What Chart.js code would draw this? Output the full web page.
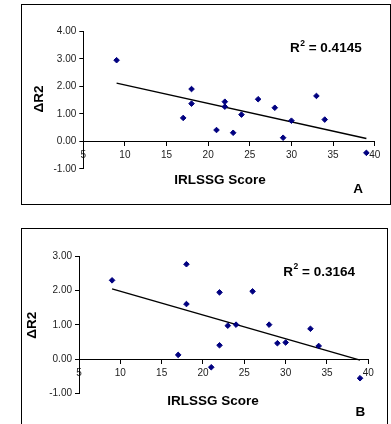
<!DOCTYPE html>
<html>
<head>
<meta charset="utf-8">
<script src="https://cdn.jsdelivr.net/npm/chart.js@4"></script>
<style>
  html, body { margin: 0; padding: 0; background: #fff; }
  body { width: 391px; height: 424px; position: relative; overflow: hidden; font-family: "Liberation Sans", Arial, sans-serif; }
  .frame { position: absolute; border: 1px solid #000; box-sizing: border-box; }
  #frameA { left: 21px; top: 4px; width: 370px; height: 201px; }
  #frameB { left: 21px; top: 228px; width: 367px; height: 210px; }
  .panel { position: absolute; left: 0; }
  #panelA { top: 0; }
  #panelB { top: 212px; }
</style>
</head>
<body>
<div class="frame" id="frameA"></div>
<div class="frame" id="frameB"></div>
<canvas class="panel" id="panelA" width="391" height="212"></canvas>
<canvas class="panel" id="panelB" width="391" height="212"></canvas>
<script>
// ==========================
// Data
// ==========================
const scores = [9, 18, 18, 17, 21, 22, 22, 23, 24, 26, 28, 29, 30, 33, 34, 39];
const deltaA = [2.95, 1.90, 1.37, 0.85, 0.41, 1.44, 1.26, 0.31, 0.97, 1.53, 1.22, 0.13, 0.75, 1.65, 0.79, -0.42];
const deltaB = [2.30, 2.77, 1.61, 0.13, -0.23, 0.41, 1.95, 0.98, 1.01, 1.98, 1.01, 0.47, 0.49, 0.89, 0.39, -0.55];
const xTicks = [5, 10, 15, 20, 25, 30, 35, 40];
const yRangeA = [-1, 4];
const yRangeB = [-1, 3];
const rSquared = ['0.4145', '0.3164'];
const panelLetters = ['A', 'B'];
const xTitle = 'IRLSSG Score';
const yTitle = '\u0394R2';

// least squares trend line through the points
function trendLine(xs, ys) {
  const n = xs.length;
  const mx = xs.reduce((a, b) => a + b, 0) / n;
  const my = ys.reduce((a, b) => a + b, 0) / n;
  let sxy = 0, sxx = 0;
  xs.forEach((x, i) => { sxy += (x - mx) * (ys[i] - my); sxx += (x - mx) * (x - mx); });
  const slope = sxy / sxx;
  const b = my - slope * mx;
  const lo = Math.min(...xs), hi = Math.max(...xs);
  return [{ x: lo, y: b + slope * lo }, { x: hi, y: b + slope * hi }];
}

const FONT = '"Liberation Sans", Arial, sans-serif';

// ==========================
// Titles, R^2 and panel letter
// ==========================
const panelText = {
  id: 'panelText',
  afterDraw(chart, args, opts) {
    const ctx = chart.ctx;
    ctx.save();
    ctx.fillStyle = '#000';
    ctx.font = 'bold 13.5px ' + FONT;
    ctx.textBaseline = 'middle';
    ctx.textAlign = 'center';
    ctx.fillText(xTitle, opts.xTitle[0], opts.xTitle[1]);
    ctx.fillText(opts.letter, opts.letterPos[0], opts.letterPos[1]);

    ctx.save();
    ctx.translate(opts.yTitle[0], opts.yTitle[1]);
    ctx.rotate(-Math.PI / 2);
    ctx.fillText(yTitle, 0, 0);
    ctx.restore();

    // R^2 = value
    ctx.textAlign = 'left';
    let x = opts.r2[0];
    const y = opts.r2[1];
    ctx.fillText('R', x, y);
    x += ctx.measureText('R').width;
    ctx.font = 'bold 8.5px ' + FONT;
    ctx.fillText('2', x + 0.5, y - 5);
    x += ctx.measureText('2').width + 0.5;
    ctx.font = 'bold 13.5px ' + FONT;
    ctx.fillText(' = ' + opts.r2Text, x, y);
    ctx.restore();
  }
};

function makePanel(id, ys, yRange, area, text) {
  return new Chart(document.getElementById(id).getContext('2d'), {
    type: 'scatter',
    data: {
      datasets: [{
        data: scores.map((x, i) => ({ x: x, y: ys[i] })),
        pointStyle: 'rectRot',
        pointRadius: 2.8,
        pointBorderWidth: 1,
        backgroundColor: '#000080',
        borderColor: '#000080'
      }, {
        type: 'line',
        data: trendLine(scores, ys),
        borderColor: '#000',
        borderWidth: 1.5,
        pointRadius: 0,
        fill: false
      }]
    },
    options: {
      responsive: false,
      animation: false,
      layout: {
        padding: { left: 0, top: area.top, right: 391 - area.right, bottom: 212 - area.bottom }
      },
      scales: {
        x: {
          type: 'linear',
          position: { y: 0 },
          min: xTicks[0],
          max: xTicks[xTicks.length - 1],
          afterBuildTicks: (s) => { s.ticks = xTicks.map(v => ({ value: v })); },
          ticks: { font: { family: FONT, size: 10 }, color: '#222', padding: 4, maxRotation: 0 },
          grid: { drawOnChartArea: false, tickLength: 4, tickColor: '#000' },
          border: { color: '#000', width: 1 }
        },
        y: {
          min: yRange[0],
          max: yRange[1],
          afterFit: (s) => { s.width = area.left; },
          ticks: {
            stepSize: 1,
            font: { family: FONT, size: 10 },
            color: '#222',
            padding: 3,
            callback: (v) => v.toFixed(2)
          },
          grid: { drawOnChartArea: false, tickLength: 4, tickColor: '#000' },
          border: { color: '#000', width: 1 }
        }
      },
      plugins: {
        legend: { display: false },
        tooltip: { enabled: false },
        panelText: text
      }
    },
    plugins: [panelText]
  });
}

makePanel('panelA', deltaA, yRangeA,
  { left: 83.3, right: 374.7, top: 31.3, bottom: 168.8 },
  { xTitle: [220, 180], yTitle: [38.8, 99], letter: panelLetters[0], letterPos: [358, 189.3], r2: [290, 48.7], r2Text: rSquared[0] });

makePanel('panelB', deltaB, yRangeB,
  { left: 79, right: 368.3, top: 44.3, bottom: 181.7 },
  { xTitle: [213, 189], yTitle: [32.7, 113.3], letter: panelLetters[1], letterPos: [360.3, 200.7], r2: [283.3, 60], r2Text: rSquared[1] });
</script>
</body>
</html>
